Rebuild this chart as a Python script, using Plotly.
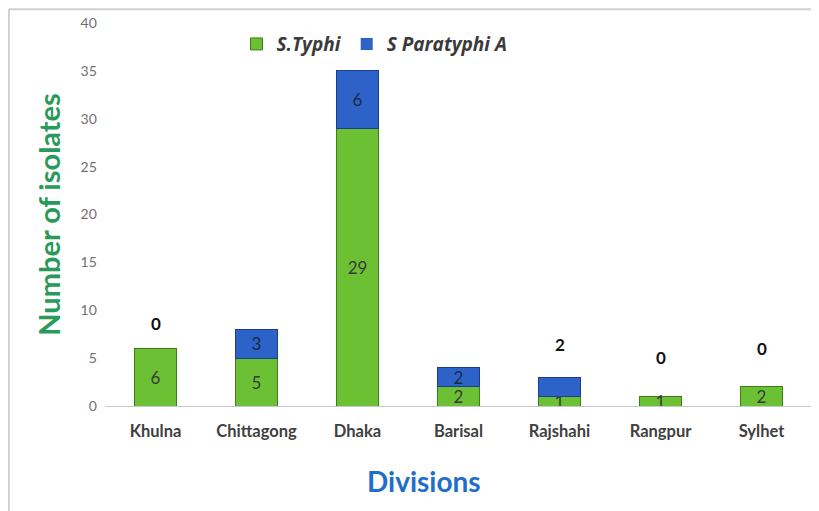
import plotly.graph_objects as go

divisions = ["Khulna", "Chittagong", "Dhaka", "Barisal", "Rajshahi", "Rangpur", "Sylhet"]
typhi = [6, 5, 29, 2, 1, 1, 2]
paratyphi = [0, 3, 6, 2, 2, 0, 0]
# labels for S Paratyphi A shown above the bars (where the segment is empty or too thin)
outside_label = [True, False, False, False, True, True, True]
label_offset = [2.6, 0, 0, 0, 3.4, 4.1, 4.0]

FONT = "Lato, 'Open Sans', sans-serif"
LFONT = "'Open Sans', Lato, sans-serif"

fig = go.Figure()
fig.add_trace(go.Bar(
    x=divisions, y=typhi, name="<b><i>S.Typhi</i></b>",
    marker=dict(color="#6cc034", line=dict(color="#3f7d1c", width=1)),
    text=[str(v) for v in typhi], textposition="inside", insidetextanchor="middle",
    constraintext="none", textangle=0,
    textfont=dict(family=FONT, size=17, color="#3a3a3a"),
    width=0.42,
))
fig.add_trace(go.Bar(
    x=divisions, y=paratyphi, name="<b><i>S Paratyphi A</i></b>",
    marker=dict(color="#2d62c9",
                line=dict(color="#1b3f8c", width=[1 if v > 0 else 0 for v in paratyphi])),
    text=[("" if o else str(v)) for v, o in zip(paratyphi, outside_label)],
    textposition="inside", insidetextanchor="middle",
    constraintext="none", textangle=0,
    textfont=dict(family=FONT, size=17, color="#1a2a40"),
    width=0.42,
))

for d, t, p, o, off in zip(divisions, typhi, paratyphi, outside_label, label_offset):
    if o:
        fig.add_annotation(x=d, y=t + p + off, text=f"<b>{p}</b>", showarrow=False,
                           font=dict(family=FONT, size=17, color="#111111"))

fig.add_annotation(xref="paper", yref="paper", x=0.451, y=-0.245, text="<b>Divisions</b>",
                   showarrow=False, font=dict(family=FONT, size=28, color="#1f6fc8"))

fig.update_layout(
    barmode="stack",
    width=819, height=511,
    margin=dict(l=97, r=15, t=15, b=113, autoexpand=False),
    paper_bgcolor="white", plot_bgcolor="white",
    font=dict(family=FONT),
    legend=dict(orientation="h", x=0.186, y=0.945, xanchor="left", yanchor="middle",
                font=dict(family=LFONT, size=19, color="#3a3a3a"),
                bgcolor="rgba(0,0,0,0)", traceorder="normal"),
    showlegend=True,
    xaxis=dict(
        showline=True, linecolor="#c8c8c8", linewidth=1, ticks="", automargin=False,
        tickfont=dict(family=FONT, size=16.5, color="#404040"),
        ticklabelstandoff=10,
        range=[-0.5, 6.5],
    ),
    yaxis=dict(
        range=[0, 40], dtick=5, showgrid=False, zeroline=False, showline=False,
        automargin=False,
        tickfont=dict(family=FONT, size=14, color="#707070"),
        ticks="", ticklen=0,
        title=dict(text="<b>Number of isolates</b>", font=dict(family=FONT, size=29, color="#2a9a5a"), standoff=11),
    ),
)
fig.update_xaxes(tickprefix="<b>", ticksuffix="</b>")
fig.update_yaxes(ticksuffix="  ")

fig.add_shape(type="line", xref="paper", yref="paper", x0=-0.136, x1=1.03, y0=1.036, y1=1.036,
              line=dict(color="#d0d0d0", width=2))
fig.add_shape(type="line", xref="paper", yref="paper", x0=-0.136, x1=-0.136, y0=-0.3, y1=1.036,
              line=dict(color="#d0d0d0", width=2))

fig.write_html("out.html")
